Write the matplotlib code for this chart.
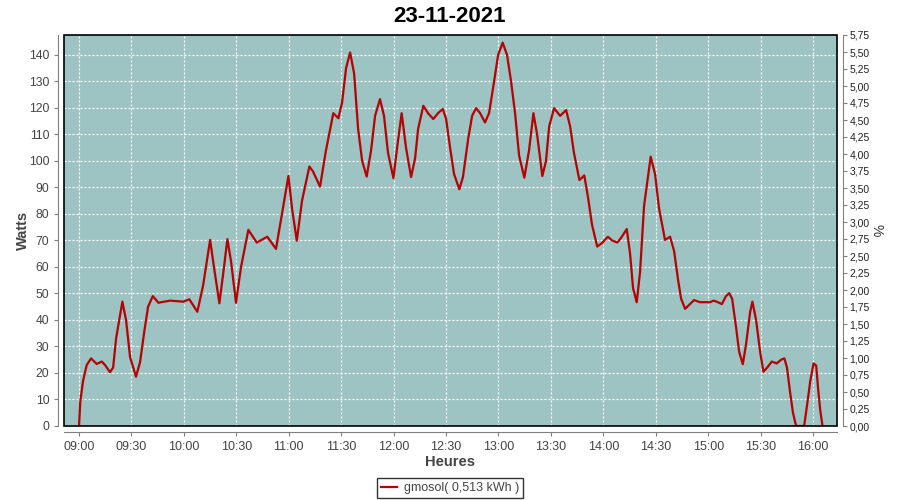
import matplotlib
matplotlib.use("Agg")
import matplotlib.pyplot as plt
from matplotlib.patches import Rectangle
from matplotlib.ticker import FuncFormatter, MultipleLocator

plt.rcParams['font.family'] = ['Liberation Sans', 'DejaVu Sans']

# minutes after 09:00 and power in watts
minutes = [0.0, 0.7, 2.3, 4.4, 6.9, 10.1, 13.0, 14.9, 17.7, 19.5, 21.2, 24.8,
           26.9, 29.2, 32.6, 34.9, 37.2, 39.5, 42.2, 45.4, 52.1, 59.7, 63.1,
           67.7, 71.0, 75.0, 77.2, 80.3, 82.4, 84.9, 87.0, 89.8, 92.7, 96.9,
           101.7, 107.7, 112.7, 115.6, 119.8, 121.9, 124.6, 127.6, 131.8,
           133.9, 137.9, 141.3, 145.5, 148.4, 150.5, 152.8, 155.1, 157.4,
           159.7, 162.0, 164.6, 167.1, 169.4, 172.2, 174.5, 176.8, 179.9,
           182.0, 184.6, 187.1, 190.0, 192.3, 194.0, 197.0, 199.7, 202.7,
           205.4, 208.1, 210.0, 212.3, 214.6, 217.6, 219.7, 222.6, 224.9,
           227.2, 229.5, 232.3, 234.6, 237.5, 239.8, 242.4, 244.9, 247.2,
           249.5, 251.8, 254.8, 257.5, 260.0, 262.1, 265.1, 267.2, 269.0,
           271.8, 275.3, 278.7, 281.0, 283.2, 286.3, 289.1, 291.3, 293.5,
           296.5, 299.2, 302.6, 305.0, 308.0, 310.2, 313.4, 315.3, 317.0,
           319.1, 321.0, 323.3, 327.1, 329.6, 331.9, 335.3, 338.2, 340.5,
           342.8, 344.5, 346.8, 349.6, 351.9, 355.3, 361.1, 363.0, 364.5,
           367.8, 370.2, 372.0, 373.7, 376.0, 377.7, 379.8, 381.7, 384.0,
           385.3, 387.4, 389.7, 391.6, 393.7, 396.4, 399.2, 401.7, 403.6,
           405.1, 406.8, 408.5, 410.3, 414.9, 416.6, 418.4, 420.3, 421.8,
           422.9, 424.1, 425.4]
watts = [0, 9, 17, 23, 25.5, 23.4, 24.3, 23, 20.3, 22, 33, 46.9,
         40, 26, 18.6, 24, 35, 45, 49, 46.5, 47.3, 46.9, 47.8,
         43.1, 53, 70.2, 60, 46.3, 57, 70.5, 62, 46.5, 60, 74,
         69.2, 71.4, 66.8, 78, 94.3, 82, 69.9, 85, 97.9,
         96, 90.3, 104, 118, 116.1, 122, 135, 140.9, 133,
         112, 100, 94.1, 104, 117, 123.3, 117, 103, 93.5,
         105, 118, 105, 93.9, 101, 112, 120.8, 118, 115.8,
         118, 119.6, 116, 105, 95, 89.3, 94, 108, 117,
         119.9, 118, 114.5, 118, 130, 140, 144.6, 140, 130,
         118, 102, 93.7, 104, 118, 110, 94.3, 100, 113,
         119.9, 117, 119.2, 113, 103, 92.8, 94.5, 86, 76,
         67.7, 69, 71.4, 70, 69.2, 71, 74.3, 65, 52,
         46.7, 58, 83, 101.6, 95, 82, 70.2, 71.4, 66,
         55, 48, 44.2, 46, 47.5, 46.7, 46.7, 47.3, 47,
         46, 49, 50.1, 48, 37, 28, 23.3, 31, 43,
         46.9, 40, 28, 20.5, 22, 24.3, 23.6, 25, 25.5,
         22, 13, 5, 0, 0, 8, 17, 23.6, 22.8,
         14, 6, 0]

title = "23-11-2021"
legend_label = "gmosol( 0,513 kWh )"

fig = plt.figure(figsize=(9, 5), dpi=100)
ax = fig.add_axes([64 / 900, 74 / 500, 773 / 900, 391 / 500])
ax.set_facecolor('#9dc3c2')

ax.plot(minutes, watts, color='#b40000', lw=1.6, label=legend_label,
        solid_joinstyle='round', zorder=3)

ax.set_xlim(-8.6, 433.7)
ax.set_ylim(0, 147.5)
ax.xaxis.set_major_locator(MultipleLocator(30))
ax.yaxis.set_major_locator(MultipleLocator(10))
ax.xaxis.set_major_formatter(FuncFormatter(
    lambda m, p: "%02d:%02d" % (9 + int(m) // 60, int(m) % 60)))
ax.grid(True, color='white', lw=0.9, linestyle=(0, (1.6, 1.6)))

for s in ax.spines.values():
    s.set_visible(False)
for s in ('left', 'bottom'):
    ax.spines[s].set_visible(True)
    ax.spines[s].set_position(('outward', 4))
    ax.spines[s].set_color('#808080')
ax.tick_params(colors='#808080', labelcolor='#444444', length=3, width=0.8,
               labelsize=8.7)
ax.tick_params(axis='x', labelsize=9)

ax.add_patch(Rectangle((0, 0), 1, 1, transform=ax.transAxes, fill=False,
                       edgecolor='black', lw=1.2, clip_on=False, zorder=5))

ax2 = ax.twinx()
ax2.set_ylim(0, 5.75)
ax2.yaxis.set_major_locator(MultipleLocator(0.25))
ax2.yaxis.set_major_formatter(FuncFormatter(lambda v, p: ("%.2f" % v).replace('.', ',')))
for s in ax2.spines.values():
    s.set_visible(False)
ax2.spines['right'].set_visible(True)
ax2.spines['right'].set_position(('outward', 4))
ax2.spines['right'].set_color('#808080')
ax2.tick_params(colors='#808080', labelcolor='#222222', length=3, width=0.8,
                labelsize=7.5, pad=2)
ax2.set_ylabel('%', rotation=270, fontsize=10, color='#333333', labelpad=10)

ax.set_ylabel('Watts', fontsize=10.5, fontweight='bold', color='#444444', labelpad=-1)
ax.set_xlabel('Heures', fontsize=10.5, fontweight='bold', color='#444444', labelpad=2)
fig.suptitle(title, fontsize=16, fontweight='bold', y=0.966, va='center')

leg = fig.legend(loc='center', bbox_to_anchor=(450 / 900, 1 - 488 / 500),
                 fontsize=9, frameon=True, fancybox=False, handlelength=1.3,
                 handletextpad=0.5, borderpad=0.3, labelcolor='#444444')
leg.get_frame().set_edgecolor('black')
leg.get_frame().set_linewidth(1)

fig.savefig('out.png', dpi=100)
